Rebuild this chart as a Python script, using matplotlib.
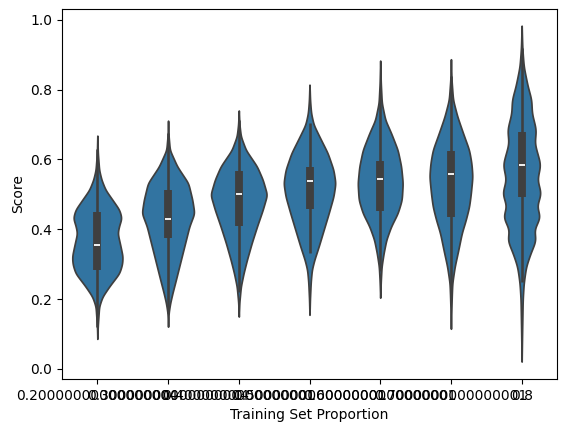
import numpy as np
import matplotlib
matplotlib.use("Agg")
import matplotlib.pyplot as plt

# ---- data ----
tick_labels = ["0.20000000000000004", "0.30000000000000004", "0.4000000000000001",
               "0.5000000000000001", "0.6000000000000001", "0.7000000000000001", "0.8"]

# density outline knots (score value, relative half-width in px of the reference)
v1_y = [0.086, 0.12, 0.179, 0.207, 0.236, 0.274, 0.30, 0.322, 0.35, 0.389, 0.41, 0.432, 0.456, 0.484, 0.513, 0.542, 0.57, 0.62, 0.668]
v1_w = [0, 0.3, 1.7, 5, 11.7, 21.7, 24.5, 25, 23, 20, 21.5, 24, 21.7, 15, 8, 4, 1.7, 0.4, 0]
v2_y = [0.121, 0.16, 0.188, 0.217, 0.255, 0.293, 0.331, 0.37, 0.408, 0.446, 0.484, 0.532, 0.58, 0.627, 0.67, 0.711]
v2_w = [0, 0.5, 2, 4.3, 7.7, 11, 14.3, 17.7, 21, 26, 24, 20, 9, 1.7, 0.4, 0]
v3_y = [0.15, 0.19, 0.236, 0.274, 0.312, 0.36, 0.408, 0.456, 0.499, 0.542, 0.58, 0.627, 0.666, 0.70, 0.74]
v3_w = [0, 0.5, 2, 4.7, 8, 12.7, 18, 23.7, 28, 23.7, 18, 7, 2, 0.6, 0]
v4_y = [0.155, 0.2, 0.25, 0.284, 0.312, 0.35, 0.398, 0.446, 0.494, 0.532, 0.57, 0.618, 0.666, 0.70, 0.733, 0.77, 0.814]
v4_w = [0, 0.4, 1.2, 2.3, 4.7, 9, 14, 19, 23.7, 25.7, 23.7, 18, 9.7, 4, 1.5, 0.5, 0]
v5_y = [0.204, 0.25, 0.293, 0.331, 0.37, 0.408, 0.446, 0.484, 0.532, 0.58, 0.627, 0.676, 0.713, 0.762, 0.82, 0.883]
v5_w = [0, 0.5, 1.3, 3.3, 6, 10.7, 17.3, 21.3, 22.3, 20.7, 17.3, 10.7, 5, 1.5, 0.5, 0]
v6_y = [0.115, 0.17, 0.21, 0.246, 0.293, 0.341, 0.389, 0.427, 0.465, 0.503, 0.551, 0.589, 0.627, 0.675, 0.723, 0.771, 0.83, 0.887]
v6_w = [0, 0.4, 0.8, 1.3, 3.7, 7.3, 10.7, 14.7, 18, 19.7, 21.3, 20.3, 18, 12, 6.3, 2, 0.5, 0]
v7_y = [0.021, 0.1, 0.198, 0.246, 0.293, 0.331, 0.37, 0.398, 0.436, 0.465, 0.503, 0.542, 0.585, 0.647, 0.685, 0.733, 0.771, 0.809, 0.866, 0.92, 0.983]
v7_w = [0, 0.4, 1, 2, 4.3, 8.7, 14.3, 12, 18.7, 14.7, 19.3, 15.3, 18.7, 12.7, 14.3, 10, 9.7, 6, 2, 0.6, 0]

# inner box statistics
whis_lo = [0.121, 0.16, 0.22, 0.331, 0.28, 0.20, 0.25]
q1 = [0.282, 0.374, 0.408, 0.458, 0.452, 0.436, 0.491]
median = [0.355, 0.43, 0.501, 0.537, 0.544, 0.557, 0.585]
q3 = [0.449, 0.513, 0.568, 0.579, 0.595, 0.624, 0.678]
whis_hi = [0.629, 0.675, 0.713, 0.704, 0.80, 0.838, 0.919]

profiles = [(v1_y, v1_w), (v2_y, v2_w), (v3_y, v3_w), (v4_y, v4_w),
            (v5_y, v5_w), (v6_y, v6_w), (v7_y, v7_w)]

fill_color = "#3274a1"
line_color = "#3f3f3f"
lw = 1.25
box_w = lw * 4.5
whis_w = box_w / 3
px_max = 28.0
half_width = 0.4

fig = plt.figure(figsize=(5.67, 4.32), dpi=100)
ax = fig.add_axes([62 / 567, 53 / 432, 495 / 567, 370 / 432])

for i, (ys, ws) in enumerate(profiles):
    ys = np.asarray(ys, float)
    ws = np.asarray(ws, float) / px_max * half_width
    grid = np.linspace(ys[0], ys[-1], 400)
    w = np.interp(grid, ys, ws)
    k = np.exp(-0.5 * (np.arange(-12, 13) / 5.0) ** 2)
    k /= k.sum()
    w = np.convolve(np.pad(w, 12, mode="constant"), k, mode="same")[12:-12]
    ax.fill_betweenx(grid, i - w, i + w, facecolor=fill_color, edgecolor=line_color,
                     linewidth=lw, zorder=1)
    ax.plot([i, i], [whis_lo[i], whis_hi[i]], color=line_color, lw=whis_w,
            solid_capstyle="butt", zorder=2)
    ax.plot([i, i], [q1[i], q3[i]], color=line_color, lw=box_w,
            solid_capstyle="butt", zorder=3)
    ax.scatter([i], [median[i]], marker="_", s=15, color="white", linewidths=1.3, zorder=4)

ax.set_xlim(-0.5, len(tick_labels) - 0.5)
ax.set_xticks(range(len(tick_labels)))
ax.set_xticklabels(tick_labels)
ax.set_ylim(-0.029, 1.031)
ax.set_yticks([0.0, 0.2, 0.4, 0.6, 0.8, 1.0])
ax.set_xlabel("Training Set Proportion")
ax.set_ylabel("Score")

fig.savefig("out.png", dpi=100)
